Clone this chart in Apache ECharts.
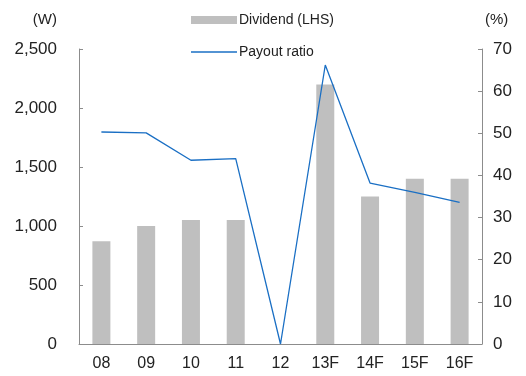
<!DOCTYPE html>
<html>
<head>
<meta charset="utf-8">
<script src="https://cdn.jsdelivr.net/npm/echarts@6/dist/echarts.min.js"></script>
<style>
  html, body { margin: 0; padding: 0; background: #fff; }
  #chart { width: 526px; height: 376px; }
</style>
</head>
<body>
<div id="chart"></div>
<script>
// Years (F = forecast)
const categories = ['08', '09', '10', '11', '12', '13F', '14F', '15F', '16F'];
// Dividend per share (W), left axis
const dividend = [870, 1000, 1050, 1050, 0, 2200, 1250, 1400, 1400];
// Payout ratio (%), right axis
const payoutRatio = [50.3, 50.1, 43.6, 44.0, 0, 66.2, 38.2, 36.0, 33.6];

const font = 'Liberation Sans, Arial, sans-serif';
const axisGray = '#8c8c8c';
const textColor = '#222';

const chart = echarts.init(document.getElementById('chart'), null, { renderer: 'canvas' });
chart.setOption({
  animation: false,
  grid: { left: 79, right: 44, top: 49, bottom: 32 },
  legend: [
    {
      orient: 'vertical', left: 191, top: 13, padding: 0,
      itemWidth: 46, itemHeight: 8, itemGap: 0,
      icon: 'rect',
      data: ['Dividend (LHS)'],
      textStyle: { fontFamily: font, fontSize: 14, color: textColor, padding: [2, 0, 0, -3] }
    },
    {
      orient: 'vertical', left: 191, top: 45, padding: 0,
      itemWidth: 46, itemHeight: 1.5, itemGap: 0,
      icon: 'rect',
      data: ['Payout ratio'],
      textStyle: { fontFamily: font, fontSize: 14, color: textColor, padding: [1, 0, 0, -3] }
    }
  ],
  xAxis: {
    type: 'category',
    data: categories,
    boundaryGap: true,
    axisLine: { lineStyle: { color: axisGray, width: 1 } },
    axisTick: { inside: true, length: 4, lineStyle: { color: axisGray } },
    axisLabel: { fontFamily: font, fontSize: 16, color: textColor, margin: 12 }
  },
  yAxis: [
    {
      type: 'value', min: 0, max: 2500, interval: 500,
      name: '(W)', nameGap: 22,
      nameTextStyle: { fontFamily: font, fontSize: 15, color: textColor, align: 'right', padding: [0, 22, 0, 0] },
      axisLine: { show: true, lineStyle: { color: axisGray, width: 1 } },
      axisTick: { show: true, inside: true, length: 4, lineStyle: { color: axisGray } },
      splitLine: { show: false },
      axisLabel: {
        fontFamily: font, fontSize: 17, color: textColor, margin: 22,
        formatter: v => v.toLocaleString('en-US')
      }
    },
    {
      type: 'value', min: 0, max: 70, interval: 10,
      name: '(%)', nameGap: 22,
      nameTextStyle: { fontFamily: font, fontSize: 15, color: textColor, align: 'left', padding: [0, 0, 0, 3] },
      axisLine: { show: true, lineStyle: { color: axisGray, width: 1 } },
      axisTick: { show: true, inside: true, length: 4, lineStyle: { color: axisGray } },
      splitLine: { show: false },
      axisLabel: { fontFamily: font, fontSize: 17, color: textColor, margin: 11 }
    }
  ],
  series: [
    {
      name: 'Dividend (LHS)',
      type: 'bar',
      yAxisIndex: 0,
      data: dividend,
      barWidth: 18,
      itemStyle: { color: '#bfbfbf' }
    },
    {
      name: 'Payout ratio',
      type: 'line',
      yAxisIndex: 1,
      data: payoutRatio,
      symbol: 'none',
      lineStyle: { color: '#1a6fc4', width: 1.3 },
      itemStyle: { color: '#1a6fc4' }
    }
  ]
});
</script>
</body>
</html>
